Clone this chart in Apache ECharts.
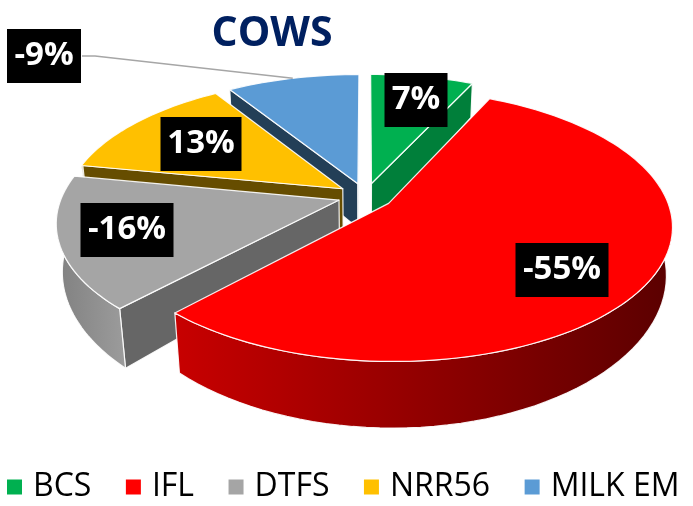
<!DOCTYPE html>
<html>
<head>
<meta charset="utf-8">
<title>COWS</title>
<style>
	html,body{margin:0;padding:0;background:#fff;}
	#main{width:693px;height:506px;}
</style>
<script src="https://cdn.jsdelivr.net/npm/echarts@6/dist/echarts.min.js"></script>
</head>
<body>
<div id="main"></div>
<script>
	//数据
	var categories = ["BCS", "IFL", "DTFS", "NRR56", "MILK EM"];
	var values = [7, -55, -16, 13, -9];

	//颜色
	var topColors = ["#00B050", "#FF0000", "#A5A5A5", "#FFC000", "#5B9BD5"];
	var cutColors = ["#007F3A", "#C00000", "#666666", "#664D00", "#233F57"];
	var rimColors = [
		["#007F3A", "#007F3A"],
		["#C80000", "#5A0000"],
		["#808080", "#9C9C9C"],
		["#664D00", "#664D00"],
		["#233F57", "#233F57"]
	];
	//标签位置、绘制顺序
	var labelCenters = [[416, 100], [562, 270], [127, 230], [201, 144], [44, 56]];
	var drawOrder = [0, 4, 3, 2, 1];

	//透视参数
	var view = {cx: 365.5, cy: 196, k: 277, tilt: 0.47, persp: 0.16, explode: 0.1, height: 46, vanish: 2500};

	var total = 0;
	for (var n = 0; n < values.length; n++) {
		total += Math.abs(values[n]);
	}

	function project(x, y, bottom) {
		var s = 1 / (1 - view.persp * y);
		var sx = view.cx + view.k * x * s;
		var sy = view.cy + view.k * view.tilt * y * s;
		if (bottom) {
			var wall = view.height * s * s;
			sx += (view.cx - sx) * wall / view.vanish;
			sy += wall;
		}
		return [sx, sy];
	}

	function startAngle(i) {
		var sum = 0;
		for (var j = 0; j < i; j++) {
			sum += Math.abs(values[j]);
		}
		return sum / total * Math.PI * 2;
	}

	function rimPoint(i, a, r, bottom) {
		var mid = startAngle(i) + Math.abs(values[i]) / total * Math.PI;
		var x = view.explode * Math.sin(mid) + r * Math.sin(a);
		var y = -view.explode * Math.cos(mid) - r * Math.cos(a);
		return project(x, y, bottom);
	}

	function poly(points, fill, z2) {
		return {
			type: "polygon",
			z2: z2,
			shape: {points: points},
			style: {fill: fill, stroke: "rgba(255,255,255,0.9)", lineWidth: 1.2, lineJoin: "round"}
		};
	}

	function area(p) {
		var sum = 0;
		for (var j = 0; j < p.length; j++) {
			var q = p[(j + 1) % p.length];
			sum += p[j][0] * q[1] - q[0] * p[j][1];
		}
		return sum;
	}

	function renderSlice(i) {
		return function(params, api) {
			var a0 = startAngle(i);
			var a1 = a0 + api.value(0) / total * Math.PI * 2;
			var steps = Math.max(4, Math.ceil((a1 - a0) / 0.03));
			var top = [];
			for (var j = 0; j <= steps; j++) {
				top.push(rimPoint(i, a0 + (a1 - a0) * j / steps, 1, false));
			}
			var apex = rimPoint(i, 0, 0, false), apexLow = rimPoint(i, 0, 0, true);
			var base = drawOrder[i] * 10;
			var children = [];
			//切面，只画朝向观察者的
			var cut0 = [apex, top[0], rimPoint(i, a0, 1, true), apexLow];
			var cut1 = [apex, top[steps], rimPoint(i, a1, 1, true), apexLow];
			if (area(cut0) < 0) {
				children.push(poly(cut0, cutColors[i], base + 1));
			}
			if (area(cut1) > 0) {
				children.push(poly(cut1, cutColors[i], base + 1));
			}
			//外侧弧面，只画朝前的部分
			var from = Math.max(a0, Math.PI / 2 - 0.2), to = Math.min(a1, Math.PI * 1.5 + 0.2);
			if (to > from) {
				var upper = [], lower = [];
				for (var m = 0; m <= 60; m++) {
					var a = from + (to - from) * m / 60;
					upper.push(rimPoint(i, a, 1, false));
					lower.unshift(rimPoint(i, a, 1, true));
				}
				children.push(poly(upper.concat(lower), {
					type: "linear", x: 0, y: 0, x2: 1, y2: 0,
					colorStops: [{offset: 0, color: rimColors[i][0]}, {offset: 1, color: rimColors[i][1]}]
				}, base + 2));
			}
			children.push(poly([apex].concat(top), topColors[i], base + 3));
			//标签
			children.push({
				type: "text",
				z2: 100,
				x: labelCenters[i][0],
				y: labelCenters[i][1],
				style: {
					text: values[i] + "%",
					fill: "#fff",
					font: "bold 33px 'Open Sans'",
					align: "center",
					verticalAlign: "middle",
					backgroundColor: "#000",
					width: i == 0 ? 63 : (i == 3 ? 81 : (i == 4 ? 74 : 93)),
					height: 54,
					lineHeight: 54
				}
			});
			//-9%的引导线
			if (i == 4) {
				var end = rimPoint(i, (a0 + a1) / 2, 1, false);
				var c = labelCenters[i];
				children.push({
					type: "polyline",
					z2: 90,
					shape: {points: [[c[0] + 38, c[1]], [c[0] + 51, c[1]], end]},
					style: {fill: null, stroke: "#A6A6A6", lineWidth: 1.5}
				});
			}
			return {type: "group", children: children};
		};
	}

	var _series = [];
	for (var i = 0; i < categories.length; i++) {
		_series.push({
			name: categories[i],
			type: "custom",
			coordinateSystem: "none",
			itemStyle: {color: topColors[i]},
			renderItem: renderSlice(i),
			data: [Math.abs(values[i])]
		});
	}

	var myChart = echarts.init(document.getElementById("main"), null, {renderer: "canvas"});
	myChart.setOption({
		animation: false,
		title: {
			text: "COWS",
			left: 267,
			top: 9,
			textAlign: "center",
			textStyle: {color: "#002060", fontFamily: "Open Sans", fontWeight: "bold", fontSize: 41}
		},
		legend: {
			data: categories,
			left: 2,
			top: 466,
			icon: "rect",
			itemWidth: 15,
			itemHeight: 15,
			itemGap: 34.5,
			textStyle: {color: "#000", fontFamily: "Open Sans", fontSize: 32, padding: [0, 0, 0, 6]}
		},
		series: _series
	});
</script>
</body>
</html>
